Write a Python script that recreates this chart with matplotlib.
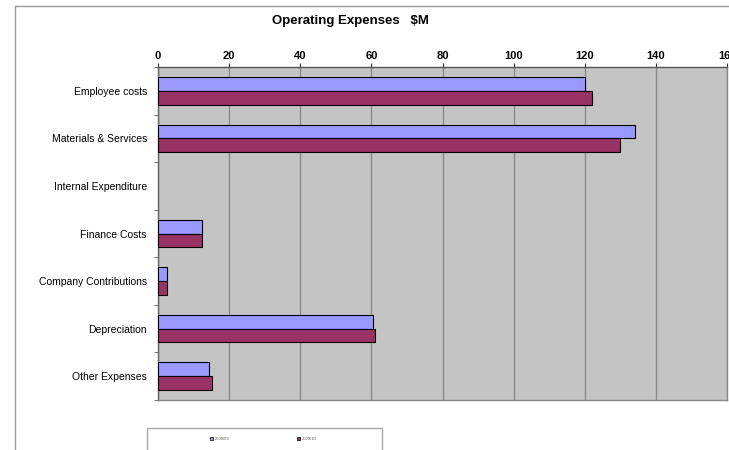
import matplotlib.pyplot as plt
import numpy as np
from matplotlib.lines import Line2D
from matplotlib.patches import Rectangle

categories = ["Employee costs", "Materials & Services", "Internal Expenditure",
              "Finance Costs", "Company Contributions", "Depreciation", "Other Expenses"]
series_a = [120, 134, 0, 12.5, 2.5, 60.5, 14.3]
series_b = [122, 130, 0, 12.3, 2.4, 61, 15.2]
labels = ["2008/09", "2009/10"]
xticks = [0, 20, 40, 60, 80, 100, 120, 140, 160]

plt.rcParams['font.family'] = ['Liberation Sans', 'DejaVu Sans']

fig = plt.figure(figsize=(7.29, 4.5), dpi=100)
ax = fig.add_axes([158/729, 1 - 400/450, 569/729, 333/450])

y = np.arange(len(categories))
h = 0.29
ax.barh(y - h/2, series_a, height=h, color="#9999FF", edgecolor="black",
        linewidth=[0.8 if v else 0 for v in series_a], zorder=3)
ax.barh(y + h/2, series_b, height=h, color="#993366", edgecolor="black",
        linewidth=[0.8 if v else 0 for v in series_b], zorder=3)

ax.set_facecolor("#c4c4c4")
ax.set_xlim(0, 160)
ax.set_ylim(len(categories) - 0.5, -0.5)
ax.set_xticks(xticks)
ax.set_xticklabels([str(t) for t in xticks], fontsize=8, fontweight="bold")
ax.xaxis.tick_top()
ax.tick_params(axis="x", length=3, pad=1, colors="#333333", labelcolor="black")
ax.set_yticks(y)
ax.set_yticklabels(categories, fontsize=7.5)
ax.set_yticks(np.arange(len(categories) + 1) - 0.5, minor=True)
ax.tick_params(axis="y", which="major", length=0, pad=8)
ax.tick_params(axis="y", which="minor", length=3, color="#555555")
ax.grid(axis="x", color="#8a8a8a", linewidth=1, zorder=1)
for s in ax.spines.values():
    s.set_color("#888888")
    s.set_linewidth(1)
ax.spines["left"].set_color("#666666")
ax.spines["top"].set_color("#555555")

fig.text(350/729, 1 - 21/450, "Operating Expenses   $M", ha="center", va="center",
         fontsize=9.5, fontweight="bold")

# outer frame lines
fig.add_artist(Line2D([15/729, 1], [1 - 6/450, 1 - 6/450], color="#999999", lw=1))
fig.add_artist(Line2D([15/729, 15/729], [0, 1 - 6/450], color="#999999", lw=1))

# legend box (cut off at bottom)
fig.add_artist(Rectangle((147/729, -0.02), 235/729, 0.02 + 1 - 428/450, transform=fig.transFigure,
                         fill=False, edgecolor="#aaaaaa", lw=1))
for xp, lab, col in [(210, labels[0], "#9999FF"), (297, labels[1], "#993366")]:
    fig.add_artist(Rectangle((xp/729, 1 - 440/450), 3/729, 3/450, transform=fig.transFigure,
                             facecolor=col, edgecolor="black", lw=0.5))
    fig.text((xp + 5)/729, 1 - 438.5/450, lab, fontsize=3, color="#555555", va="center")

fig.savefig("out.png", dpi=100)
